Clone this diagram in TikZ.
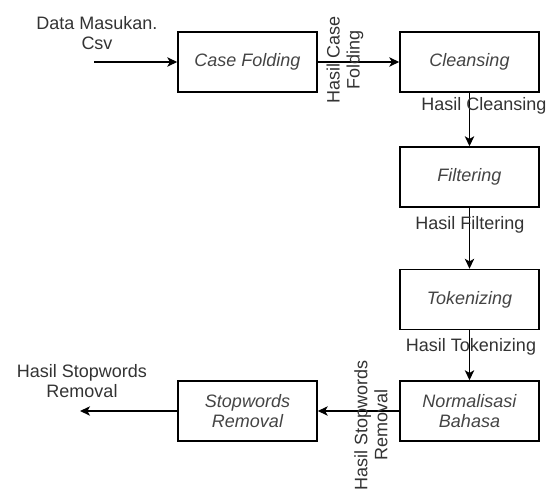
\documentclass[tikz,border=0pt]{standalone}
\usepackage{fontspec}
\setmainfont{Liberation Sans}
\usetikzlibrary{arrows.meta}
\definecolor{txtgray}{HTML}{333333}
\definecolor{boxtxt}{HTML}{444444}
\tikzset{
  procbox/.style={draw=black, line width=1.1pt, minimum width=104.25pt, minimum height=45pt, inner sep=0pt, align=center, text=boxtxt, font=\fontsize{13.5}{15}\selectfont\itshape},
  lbl/.style={align=center, text=txtgray, inner sep=0pt, font=\fontsize{13.5}{15}\selectfont},
  flow/.style={line width=1.1pt, -{Stealth[length=7.5pt,width=7pt,inset=2pt]}}
}
\begin{document}
\begin{tikzpicture}[x=0.75pt,y=-0.75pt]
\useasboundingbox (0,0) rectangle (553,493);
\node[procbox] (cf) at (247.5,62) {Case Folding};
\node[procbox] (cl) at (469.5,62) {Cleansing};
\node[procbox] (fi) at (469.5,177) {Filtering};
\node[procbox] (tk) at (469.5,299.5) {Tokenizing};
\node[procbox] (nb) at (469.5,411) {Normalisasi\\Bahasa};
\node[procbox] (sr) at (247.5,411) {Stopwords\\Removal};
\coordinate (in) at (94,62);
\coordinate (out) at (80,411);
\node[lbl] (inl) at (97,33) {Data Masukan.\\Csv};
\node[lbl] (outl) at (82,381) {Hasil Stopwords\\Removal};
\draw[flow] (in) -- (cf.west);
\draw[flow] (cf.east) -- (cl.west);
\draw[flow] (cl.south) -- (fi.north);
\draw[flow] (fi.south) -- (tk.north);
\draw[flow] (tk.south) -- (nb.north);
\draw[flow] (nb.west) -- (sr.east);
\draw[flow] (sr.west) -- (out);
\node[lbl, rotate=90] (l1) at (345,60) {Hasil Case\\Folding};
\node[lbl] (l2) at (484,106) {Hasil Cleansing};
\node[lbl] (l3) at (470,225) {Hasil Filtering};
\node[lbl] (l4) at (471,347) {Hasil Tokenizing};
\node[lbl, rotate=90] (l5) at (371,425) {Hasil Stopwords\\Removal};
\end{tikzpicture}
\end{document}
